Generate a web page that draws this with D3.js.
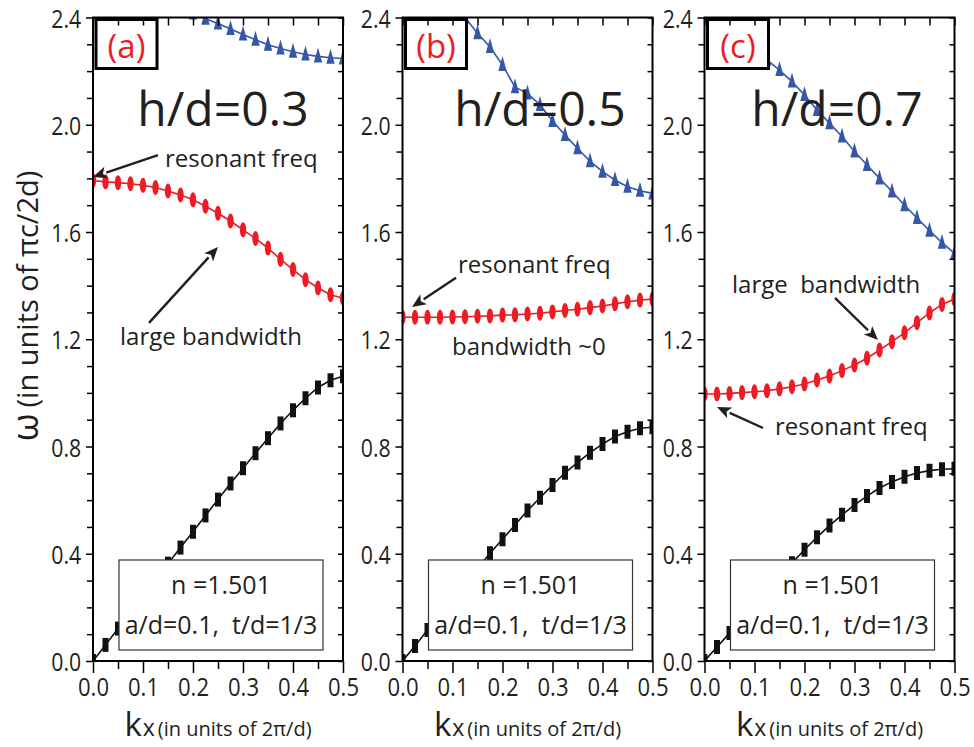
<!DOCTYPE html>
<html>
<head>
<meta charset="utf-8">
<script src="https://cdn.jsdelivr.net/npm/d3@7"></script>
<style>
  body { margin: 0; background: #fff; }
  svg { display: block; }
  text { font-family: "Open Sans", "DejaVu Sans", sans-serif; fill: #231f20; }
</style>
</head>
<body>
<svg id="chart" width="974" height="747"></svg>
<script>
// Bloch wavevector k_x (units of 2π/d)
const kx = [0, 0.025, 0.05, 0.075, 0.1, 0.125, 0.15, 0.175, 0.2, 0.225, 0.25,
            0.275, 0.3, 0.325, 0.35, 0.375, 0.4, 0.425, 0.45, 0.475, 0.5];

// Lowest (guided) band, ω in units of πc/2d
const bandLowA = [0.000, 0.060, 0.121, 0.182, 0.243, 0.303, 0.363, 0.423, 0.482, 0.543, 0.602,
                  0.662, 0.719, 0.775, 0.831, 0.886, 0.935, 0.980, 1.020, 1.047, 1.062];
const bandLowB = [0.000, 0.056, 0.116, 0.175, 0.233, 0.290, 0.346, 0.402, 0.454, 0.507, 0.561,
                  0.609, 0.656, 0.702, 0.740, 0.777, 0.809, 0.837, 0.855, 0.868, 0.872];
const bandLowC = [0.000, 0.052, 0.104, 0.156, 0.208, 0.260, 0.310, 0.365, 0.415, 0.462, 0.505,
                  0.545, 0.582, 0.615, 0.645, 0.668, 0.687, 0.701, 0.710, 0.715, 0.717];

// Resonant band
const bandMidA = [1.792, 1.787, 1.784, 1.780, 1.774, 1.766, 1.753, 1.738, 1.720, 1.696, 1.670,
                  1.641, 1.608, 1.576, 1.540, 1.498, 1.460, 1.422, 1.391, 1.366, 1.353];
const bandMidB = [1.282, 1.282, 1.282, 1.282, 1.283, 1.284, 1.286, 1.287, 1.290, 1.291, 1.294,
                  1.297, 1.302, 1.307, 1.312, 1.318, 1.324, 1.332, 1.340, 1.346, 1.350];
const bandMidC = [0.996, 0.996, 0.998, 1.001, 1.004, 1.008, 1.015, 1.023, 1.033, 1.048, 1.063,
                  1.083, 1.104, 1.129, 1.160, 1.191, 1.224, 1.262, 1.298, 1.330, 1.350];

// Upper band (null where it lies above the plotted range)
const bandTopA = [null, null, null, null, null, null, null, null, 2.415, 2.395, 2.378,
                  2.357, 2.337, 2.317, 2.298, 2.284, 2.272, 2.262, 2.255, 2.250, 2.247];
const bandTopB = [null, null, null, null, 2.460, 2.400, 2.341, 2.290, 2.223, 2.140, 2.117,
                  2.074, 2.014, 1.962, 1.912, 1.864, 1.825, 1.794, 1.769, 1.754, 1.744];
const bandTopC = [null, null, null, null, 2.285, 2.242, 2.204, 2.161, 2.111, 2.055, 2.006,
                  1.956, 1.900, 1.850, 1.800, 1.751, 1.700, 1.652, 1.605, 1.560, 1.520];

const panelTags = ["(a)", "(b)", "(c)"];
const thicknessLabels = ["h/d=0.3", "h/d=0.5", "h/d=0.7"];
const legendLines = ["n =1.501", "a/d=0.1,  t/d=1/3"];

const yMajorTicks = [0, 0.4, 0.8, 1.2, 1.6, 2.0, 2.4];
const yMinorTicks = [0.1, 0.2, 0.3, 0.5, 0.6, 0.7, 0.9, 1.0, 1.1, 1.3, 1.4, 1.5, 1.7, 1.8, 1.9, 2.1, 2.2, 2.3];
const xMajorTicks = [0, 0.1, 0.2, 0.3, 0.4, 0.5];
const xMinorTicks = [0.05, 0.15, 0.25, 0.35, 0.45];
const xAllTicks = [0, 0.05, 0.1, 0.15, 0.2, 0.25, 0.3, 0.35, 0.4, 0.45, 0.5];

// Annotations: text anchor and arrow tail/tip in data units (k_x, ω)
const notes = [
  { panel: 0, text: "resonant freq", at: [0.144, 1.843], from: [0.130, 1.887], to: [0.0, 1.805] },
  { panel: 0, text: "large bandwidth", at: [0.054, 1.179], from: [0.112, 1.261], to: [0.25, 1.544] },
  { panel: 1, text: "resonant freq", at: [0.111, 1.447], from: [0.107, 1.429], to: [0.019, 1.320] },
  { panel: 1, text: "bandwidth ~0", at: [0.099, 1.141] },
  { panel: 2, text: "large  bandwidth", at: [0.055, 1.373], from: [0.261, 1.354], to: [0.347, 1.197] },
  { panel: 2, text: "resonant freq", at: [0.141, 0.843], from: [0.117, 0.869], to: [0.025, 0.947] }
];

const lowBands = [bandLowA, bandLowB, bandLowC];
const midBands = [bandMidA, bandMidB, bandMidC];
const topBands = [bandTopA, bandTopB, bandTopC];

const RED = "#ed1c24", BLUE = "#3656a8", BLACK = "#111";
const shapes = {
  rect: "M-3,-7H3V7H-3Z",
  ellipse: "M0,-7.5A3.2,7.5 0 1,1 0,7.5A3.2,7.5 0 1,1 0,-7.5Z",
  tri: "M0,-9L4.2,6L-4.2,6Z"
};

const svg = d3.select("#chart");
const defs = svg.append("defs");

const plotTop = 17.5, plotBottom = 661, panelW = 250;
const panelLeft = [93, 402.5, 704.5];
const labelCenterOffset = [130, 137.5, 132.5];
const condense = 0.85;

const y = d3.scaleLinear().domain([0, 2.4]).range([plotBottom, plotTop]);

panelLeft.forEach((L, i) => {
  const x = d3.scaleLinear().domain([0, 0.5]).range([L, L + panelW]);
  const g = svg.append("g");

  defs.append("clipPath").attr("id", "clip" + i)
    .append("rect").attr("x", L).attr("y", plotTop)
    .attr("width", panelW).attr("height", plotBottom - plotTop);

  const dg = g.append("g").attr("clip-path", `url(#clip${i})`);
  const series = [
    { vals: lowBands[i], color: BLACK, shape: "rect" },
    { vals: midBands[i], color: RED, shape: "ellipse" },
    { vals: topBands[i], color: BLUE, shape: "tri" }
  ];
  const line = d3.line().defined(d => d.v != null).x(d => x(d.k)).y(d => y(d.v));
  series.forEach(s => {
    const pts = kx.map((k, j) => ({ k, v: s.vals[j] }));
    dg.append("path").datum(pts).attr("d", line)
      .attr("fill", "none").attr("stroke", s.color).attr("stroke-width", 1.6);
    dg.selectAll(null).data(pts.filter(d => d.v != null)).join("path")
      .attr("transform", d => `translate(${x(d.k)},${y(d.v)})`)
      .attr("d", shapes[s.shape]).attr("fill", s.color);
  });

  // parameter box
  const lg = g.append("g");
  lg.append("rect").attr("x", L + 26).attr("y", 560).attr("width", 204).attr("height", 90)
    .attr("fill", "#fff").attr("stroke", "#333").attr("stroke-width", 1.2);
  legendLines.forEach((t, j) => {
    lg.append("text").attr("x", L + 128).attr("y", 594 + j * 40)
      .attr("text-anchor", "middle").attr("font-size", 25)
      .attr("xml:space", "preserve").text(t);
  });

  // panel tag
  g.append("rect").attr("x", L + 3).attr("y", 19.5).attr("width", 61).attr("height", 49)
    .attr("fill", "#fff").attr("stroke", "#000").attr("stroke-width", 3);
  g.append("text").attr("x", L + 33.5).attr("y", 58).attr("text-anchor", "middle")
    .attr("font-size", 33).style("fill", RED).text(panelTags[i]);

  // h/d label
  g.append("text").attr("x", L + labelCenterOffset[i]).attr("y", 126)
    .attr("text-anchor", "middle").attr("font-size", 48).text(thicknessLabels[i]);

  // frame
  g.append("rect").attr("x", L).attr("y", plotTop).attr("width", panelW)
    .attr("height", plotBottom - plotTop).attr("fill", "none")
    .attr("stroke", "#000").attr("stroke-width", 2);

  // axes
  const styleAxis = sel => {
    sel.select(".domain").remove();
    sel.selectAll(".tick line").attr("stroke", "#000").attr("stroke-width", 1.5);
  };
  g.append("g").attr("transform", `translate(${L},0)`)
    .call(d3.axisLeft(y).tickValues(yMinorTicks).tickSize(6).tickFormat(""))
    .call(styleAxis);
  const yl = g.append("g").attr("transform", `translate(${L},0)`)
    .call(d3.axisLeft(y).tickValues(yMajorTicks).tickSize(7).tickPadding(7).tickFormat(d3.format(".1f")))
    .call(styleAxis);
  yl.selectAll("text").attr("font-size", 25).attr("font-family", null).attr("dy", "0.38em")
    .attr("transform", `scale(${condense},1)`).style("fill", "#231f20");

  g.append("g").attr("transform", `translate(${L + panelW},0)`)
    .call(d3.axisLeft(y).tickValues(yMajorTicks.concat(yMinorTicks)).tickSize(5).tickFormat(""))
    .call(styleAxis);
  g.append("g").attr("transform", `translate(0,${plotTop})`)
    .call(d3.axisBottom(x).tickValues(xAllTicks).tickSize(8).tickFormat(""))
    .call(styleAxis);
  g.append("g").attr("transform", `translate(0,${plotBottom})`)
    .call(d3.axisBottom(x).tickValues(xMinorTicks).tickSize(8).tickFormat(""))
    .call(styleAxis);
  const xl = g.append("g").attr("transform", `translate(0,${plotBottom})`)
    .call(d3.axisBottom(x).tickValues(xMajorTicks).tickSize(12).tickPadding(5).tickFormat(d3.format(".1f")))
    .call(styleAxis);
  xl.selectAll("text").attr("font-size", 26).attr("font-family", null)
    .attr("transform", `scale(${condense},1)`).style("fill", "#231f20");

  // x title
  const xt = g.append("text").attr("x", L + panelW / 2).attr("y", 736).attr("text-anchor", "middle");
  xt.append("tspan").attr("font-size", 33).text("k");
  xt.append("tspan").attr("font-size", 23).attr("dx", 1).text("x");
  xt.append("tspan").attr("font-size", 20).attr("dx", 3).text("(in units of 2\u03c0/d)");

  // annotations
  notes.filter(n => n.panel === i).forEach(n => {
    g.append("text").attr("x", x(n.at[0])).attr("y", y(n.at[1]))
      .attr("font-size", 24).attr("xml:space", "preserve").text(n.text);
    if (n.from) {
      const x1 = x(n.from[0]), y1 = y(n.from[1]), x2 = x(n.to[0]), y2 = y(n.to[1]);
      const ang = Math.atan2(y2 - y1, x2 - x1);
      const hl = 14, hw = 6;
      const bx = x2 - hl * Math.cos(ang), by = y2 - hl * Math.sin(ang);
      g.append("line").attr("x1", x1).attr("y1", y1).attr("x2", bx).attr("y2", by)
        .attr("stroke", "#231f20").attr("stroke-width", 2.4);
      const px = -Math.sin(ang) * hw, py = Math.cos(ang) * hw;
      g.append("path")
        .attr("d", `M${x2},${y2}L${bx + px},${by + py}L${bx + hl * 0.25 * Math.cos(ang)},${by + hl * 0.25 * Math.sin(ang)}L${bx - px},${by - py}Z`)
        .attr("fill", "#231f20");
    }
  });
});

// y title
const yt = svg.append("text").attr("transform", "translate(38,306) rotate(-90)")
  .attr("text-anchor", "middle");
yt.append("tspan").attr("font-size", 36).text("\u03c9");
yt.append("tspan").attr("font-size", 29).attr("dx", 6).text("(in units of \u03c0c/2d)");
</script>
</body>
</html>
